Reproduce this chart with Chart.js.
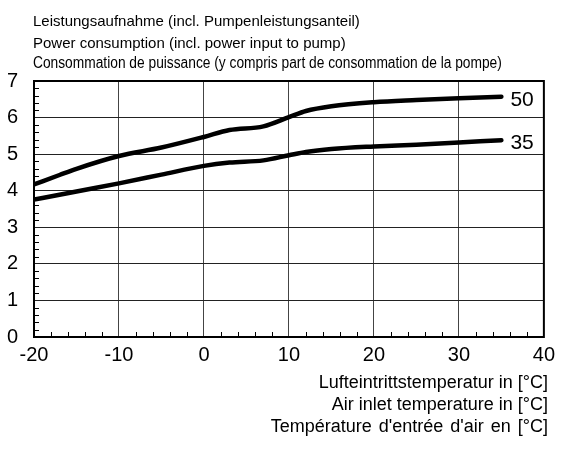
<!DOCTYPE html>
<html>
<head>
<meta charset="utf-8">
<script src="https://cdn.jsdelivr.net/npm/chart.js@4/dist/chart.umd.min.js"></script>
<style>
html,body{margin:0;padding:0;background:#fff;}
#wrap{position:relative;width:561px;height:451px;}
canvas{position:absolute;left:0;top:0;}
.t{position:absolute;font-family:"Liberation Sans",Arial,sans-serif;color:#000;white-space:nowrap;line-height:1;}
.n{transform:scaleX(0.86);transform-origin:0 0;}
</style>
</head>
<body>
<div id="wrap">
<canvas id="c" width="561" height="451"></canvas>
<div class="t" style="left:33px;top:13px;font-size:15px;">Leistungsaufnahme (incl. Pumpenleistungsanteil)</div>
<div class="t" style="left:33px;top:35px;font-size:15px;">Power consumption (incl. power input to pump)</div>
<div class="t n" style="left:33px;top:55px;font-size:16px;">Consommation de puissance (y compris part de consommation de la pompe)</div>
<div class="t" style="right:13px;top:373px;font-size:18px;text-align:right;">Lufteintrittstemperatur in [°C]</div>
<div class="t" style="right:13px;top:395px;font-size:18px;text-align:right;">Air inlet temperature in [°C]</div>
<div class="t" style="right:13px;top:417px;font-size:18px;text-align:right;word-spacing:2px;">Température d'entrée d'air en [°C]</div>
</div>
<script>
const temps = [-20, -17, -15, -10, -5, 0, 3, 7, 10, 12, 15, 20, 25, 30, 35];
const power50 = [4.17, 4.43, 4.60, 4.95, 5.18, 5.47, 5.66, 5.76, 6.01, 6.18, 6.31, 6.42, 6.48, 6.53, 6.57];
const power35 = [3.76, 3.89, 3.98, 4.20, 4.44, 4.68, 4.77, 4.83, 4.97, 5.06, 5.14, 5.21, 5.26, 5.32, 5.38];
const seriesLabels = ["50", "35"];
const xTicks = [-20, -10, 0, 10, 20, 30, 40];
const yTicks = [0, 1, 2, 3, 4, 5, 6, 7];

function pts(ys){ return temps.map((t,i)=>({x:t,y:ys[i]})); }

const endLabels = {
  id:'endLabels',
  afterDatasetsDraw(chart){
    const ctx = chart.ctx;
    ctx.save();
    ctx.font = '21px "Liberation Sans", Arial, sans-serif';
    ctx.fillStyle = '#000';
    ctx.textBaseline = 'middle';
    ctx.textAlign = 'left';
    chart.data.datasets.forEach((ds)=>{
      const last = ds.data[ds.data.length-1];
      const x = chart.scales.x.getPixelForValue(last.x);
      const y = chart.scales.y.getPixelForValue(last.y);
      ctx.fillText(ds.label, x + 9, y + 3);
    });
    ctx.restore();
  }
};

const minorTicks = {
  id:'minorTicks',
  beforeDatasetsDraw(chart){
    const ctx = chart.ctx, xs = chart.scales.x, ys = chart.scales.y, a = chart.chartArea;
    ctx.save();
    ctx.strokeStyle = '#000';
    ctx.lineWidth = 1;
    ctx.beginPath();
    for (let v = -20; v <= 40; v += 2) {
      if (v % 10 === 0) continue;
      const px = Math.round(xs.getPixelForValue(v)) + 0.5;
      ctx.moveTo(px, a.bottom); ctx.lineTo(px, a.bottom - 5);
    }
    for (let k = 0; k <= 35; k++) {
      if (k % 5 === 0) continue;
      const py = Math.round(ys.getPixelForValue(k/5)) + 0.5;
      ctx.moveTo(a.left, py); ctx.lineTo(a.left + 5, py);
    }
    ctx.stroke();
    ctx.restore();
  }
};

new Chart(document.getElementById('c'), {
  type:'line',
  data:{
    datasets:[
      {label:seriesLabels[0], data:pts(power50), borderColor:'#000', borderWidth:4.5, pointRadius:0, cubicInterpolationMode:'monotone', fill:false, borderCapStyle:'round'},
      {label:seriesLabels[1], data:pts(power35), borderColor:'#000', borderWidth:4.5, pointRadius:0, cubicInterpolationMode:'monotone', fill:false, borderCapStyle:'round'}
    ]
  },
  options:{
    responsive:false,
    animation:false,
    devicePixelRatio:1,
    layout:{padding:{top:81, right:14, left:0, bottom:0}},
    plugins:{legend:{display:false}, tooltip:{enabled:false}, title:{display:false}},
    scales:{
      x:{
        type:'linear', min:-20, max:40,
        afterBuildTicks(s){ s.ticks = xTicks.map(v=>({value:v})); },
        afterFit(s){ s.height = 114; },
        grid:{color:'#444', lineWidth:1, drawTicks:false},
        border:{color:'#000', width:2},
        ticks:{padding:6, color:'#000', font:{family:'"Liberation Sans", Arial, sans-serif', size:20}, maxRotation:0, autoSkip:false}
      },
      y:{
        type:'linear', min:0, max:7,
        afterBuildTicks(s){ s.ticks = yTicks.map(v=>({value:v})); },
        afterFit(s){ s.width = 34; },
        grid:{color:'#222', lineWidth:1, drawTicks:false},
        border:{color:'#000', width:2},
        ticks:{padding:16, color:'#000', font:{family:'"Liberation Sans", Arial, sans-serif', size:20}}
      }
    }
  },
  plugins:[minorTicks, endLabels, {
    id:'frame',
    afterDraw(chart){
      const a = chart.chartArea, ctx = chart.ctx;
      ctx.save(); ctx.strokeStyle='#000'; ctx.lineWidth=2;
      ctx.strokeRect(a.left, a.top, a.right-a.left, a.bottom-a.top);
      ctx.restore();
    }
  }]
});
</script>
</body>
</html>
